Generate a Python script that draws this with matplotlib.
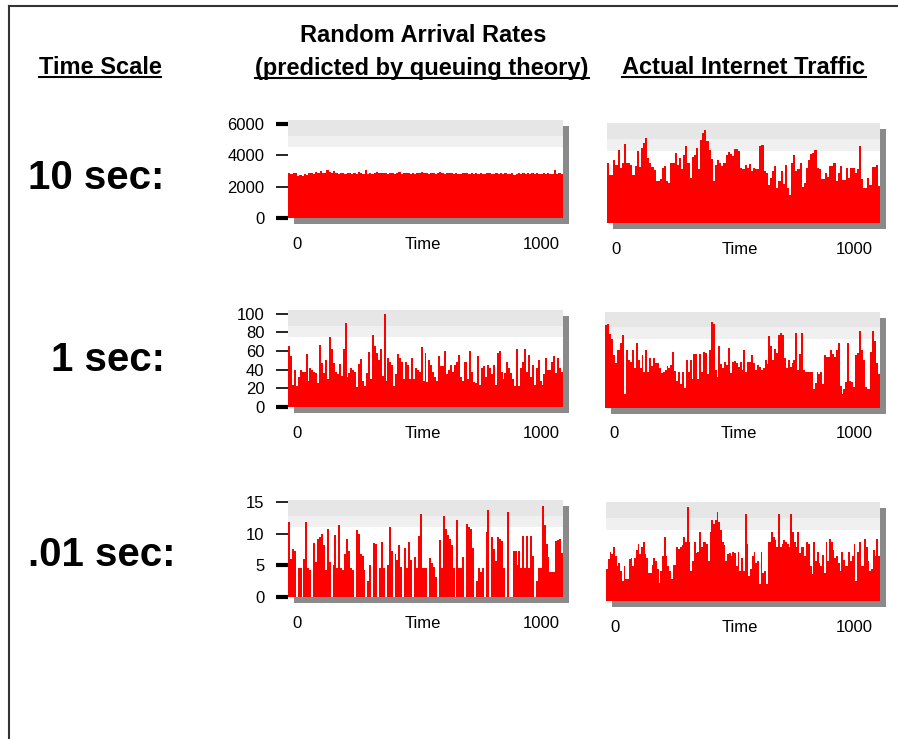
import numpy as np
import matplotlib
matplotlib.use("Agg")
import matplotlib.pyplot as plt
from matplotlib.patches import Rectangle
from matplotlib.lines import Line2D

# ---- data (bar heights, left to right) ----
poisson_10s = [2850, 2800, 2900, 2850, 2650, 2750, 2700, 2800, 2750, 2850, 2900, 2800, 2950, 2850,
               3000, 2900, 2850, 3050, 2950, 2850, 3000, 2900, 2800, 2850, 2900, 2800, 2850, 2900,
               2800, 2850, 2800, 2950, 2850, 2800, 3050, 2800, 2850, 2800, 2850, 2950, 2850, 2850,
               2900, 2850, 2800, 2850, 2850, 2800, 2850, 2950, 2800, 2850, 2900, 2850, 2800, 2850,
               2800, 2900, 2850, 2950, 2850, 2850, 2800, 2900, 2850, 2800, 2850, 2950, 2850, 2800,
               2850, 2900, 2850, 2800, 2850, 2800, 2800, 2850, 2900, 2850, 2800, 2850, 2800, 2850,
               2800, 2850, 2800, 2800, 2850, 2850, 2800, 2800, 2850, 2800, 2850, 2800, 2850, 2800,
               2800, 2850, 2750, 2800, 2850, 2800, 2850, 2800, 2850, 2800, 2850, 2800, 2850, 2800,
               2800, 2850, 2800, 2850, 2800, 2800, 3050, 2800, 2850, 2800]
poisson_1s = [65, 55, 24, 40, 22, 32, 40, 38, 38, 57, 28, 42, 40, 38, 36, 26, 66, 47, 36, 50, 30,
              75, 62, 47, 38, 35, 46, 33, 62, 90, 32, 36, 42, 40, 38, 21, 46, 51, 28, 22, 36, 59,
              30, 77, 65, 58, 50, 62, 33, 100, 28, 52, 48, 45, 22, 35, 57, 52, 48, 30, 48, 45, 30,
              52, 30, 42, 40, 38, 64, 28, 58, 27, 50, 45, 38, 32, 28, 55, 44, 44, 60, 35, 40, 45,
              38, 45, 48, 56, 32, 28, 48, 48, 30, 60, 38, 27, 26, 55, 24, 42, 44, 32, 45, 42, 35,
              45, 24, 58, 60, 38, 30, 36, 48, 42, 36, 30, 22, 62, 22, 42, 48, 62, 38, 56, 32, 45,
              24, 42, 50, 28, 24, 35, 52, 40, 40, 48, 55, 36, 52, 42, 38]
poisson_01s = [11.8, 6, 7.5, 7.3, 0, 4.5, 4.5, 0, 6, 11.8, 4.5, 4.3, 0, 8.5, 5.5, 9.2, 9.5, 10,
               8.2, 4.2, 10.8, 5.5, 0, 5, 9.8, 4.5, 11.3, 4.5, 4.2, 6.8, 9.2, 7.3, 4.5, 4.2, 0,
               10.5, 10, 6.8, 6.5, 4.3, 0, 2.5, 5, 0, 8.5, 8.3, 0, 4.5, 8.6, 4.5, 0, 5, 11.1, 7.2,
               0, 6.8, 5.8, 8.2, 4.8, 0, 7.8, 4.5, 8.6, 5.8, 0, 6.3, 4.5, 9.6, 13.1, 4.5, 4.5, 4.5,
               0, 6.2, 5.3, 4.7, 3.2, 0, 9, 4.6, 12.8, 10.8, 9.8, 9.2, 8.2, 4.6, 0, 12.2, 4.6, 4.5,
               6.3, 0, 11.5, 11, 10.8, 7.8, 0, 2.5, 4.5, 4, 4.5, 0, 10.2, 13.8, 0, 9.5, 7.6, 5.7,
               9.5, 9.2, 8.8, 4.6, 0, 13.4, 0, 0, 7.3, 7.3, 5, 7.3, 4.6, 9.6, 4.6, 9.6, 4.6, 9.6,
               6.5, 0, 2.5, 4.6, 4.6, 14.3, 11.3, 8.4, 6.3, 4, 4, 4, 8.8, 9, 9.2, 7]
internet_10s = [60, 48, 48, 63, 58, 73, 55, 60, 79, 60, 60, 58, 48, 57, 72, 56, 75, 80, 85, 65,
                60, 56, 53, 42, 42, 44, 55, 57, 42, 40, 60, 60, 70, 58, 65, 54, 68, 77, 60, 45,
                66, 68, 75, 54, 83, 90, 93, 82, 73, 64, 42, 58, 63, 60, 57, 60, 68, 71, 69, 67,
                74, 74, 72, 55, 54, 58, 55, 59, 52, 55, 54, 54, 77, 78, 52, 50, 38, 45, 52, 57,
                35, 42, 52, 39, 58, 35, 28, 60, 68, 52, 54, 60, 36, 40, 55, 63, 69, 70, 73, 55,
                54, 44, 44, 50, 46, 57, 57, 60, 42, 50, 57, 43, 43, 55, 45, 55, 55, 50, 54, 77,
                44, 35, 35, 45, 38, 56, 56, 58, 37]
internet_1s = [86, 87, 77, 72, 55, 47, 60, 60, 68, 76, 15, 60, 50, 48, 60, 42, 68, 50, 42, 55, 37,
               60, 38, 52, 44, 52, 47, 47, 42, 36, 37, 40, 44, 42, 45, 58, 39, 28, 38, 25, 38, 21,
               50, 37, 50, 30, 56, 56, 30, 56, 37, 58, 57, 35, 60, 90, 88, 40, 32, 65, 46, 42, 48,
               45, 62, 36, 48, 49, 47, 43, 48, 40, 60, 37, 48, 48, 55, 47, 40, 45, 43, 40, 42, 50,
               46, 75, 65, 50, 61, 57, 76, 78, 76, 52, 42, 50, 43, 47, 50, 78, 40, 56, 78, 40, 38,
               37, 37, 37, 20, 26, 37, 35, 37, 25, 55, 53, 53, 60, 56, 53, 60, 68, 23, 15, 20, 27,
               68, 28, 27, 22, 55, 57, 80, 60, 50, 22, 20, 20, 58, 80, 70, 47, 35]
internet_01s = [32, 42, 50, 47, 55, 45, 35, 38, 30, 20, 35, 22, 22, 42, 43, 35, 43, 52, 58, 47, 55,
                60, 47, 43, 28, 28, 36, 43, 40, 32, 18, 30, 45, 65, 45, 35, 30, 22, 36, 36, 55, 53,
                55, 57, 65, 60, 95, 60, 30, 40, 60, 48, 50, 70, 55, 60, 60, 58, 40, 70, 82, 78, 82,
                90, 80, 72, 60, 57, 40, 47, 48, 45, 50, 48, 35, 50, 30, 43, 30, 88, 58, 25, 32, 45,
                50, 38, 40, 17, 50, 28, 30, 17, 60, 60, 70, 65, 62, 55, 88, 55, 58, 62, 60, 58, 55,
                88, 70, 60, 55, 70, 48, 55, 55, 45, 60, 58, 35, 27, 60, 40, 50, 38, 35, 46, 28, 60,
                40, 63, 60, 52, 43, 45, 38, 30, 50, 41, 35, 35, 50, 40, 45, 58, 20, 50, 60, 35, 35,
                63, 55, 40, 30, 32, 52, 45, 63, 45]

row_labels = ["10 sec:", "1 sec:", ".01 sec:"]
left_series = [poisson_10s, poisson_1s, poisson_01s]
right_series = [internet_10s, internet_1s, internet_01s]
left_yticks = [[0, 2000, 4000, 6000], [0, 20, 40, 60, 80, 100], [0, 5, 10, 15]]
left_ytop = [6250, 104, 15.3]
thick_ticks = [[0, 6000], [0], [0, 5]]
x_labels = ["0", "Time", "1000"]

W, H = 898, 739
fig = plt.figure(figsize=(W / 100, H / 100), dpi=100)
fig.patch.set_facecolor("white")

HEAD = ["Liberation Sans", "DejaVu Sans"]
TICK = ["Liberation Sans", "DejaVu Sans"]


def px_rect(x0, y0, x1, y1):
    return [x0 / W, 1 - y1 / H, (x1 - x0) / W, (y1 - y0) / H]


# pixel boxes of each panel (left, top, right, bottom)
left_boxes = [(288, 120, 563, 218), (288, 310, 563, 407), (288, 500, 563, 597)]
right_boxes = [(607, 123, 880, 223), (605, 312, 880, 408), (606, 502, 880, 601)]
label_y = [178, 360, 555]
label_x = [96, 108, 102]


def panel(box, vals, ytop, lbl_pos):
    r = px_rect(*box)
    # drop shadow
    fig.add_artist(Rectangle((r[0] + 6 / W, r[1] - 6 / H), r[2], r[3], transform=fig.transFigure,
                             facecolor="#8a8a8a", edgecolor="none", zorder=-1))
    ax = fig.add_axes(r)
    ax.set_facecolor("white")
    ax.add_patch(Rectangle((0, 0.72), 1, 0.12, transform=ax.transAxes, facecolor="#f0f0f0",
                           edgecolor="none", zorder=0))
    ax.add_patch(Rectangle((0, 0.84), 1, 0.16, transform=ax.transAxes, facecolor="#e6e6e6",
                           edgecolor="none", zorder=0))
    n = len(vals)
    # bars drawn as one filled step outline so there are no seams between them
    ax.stairs(vals, np.arange(n + 1) - 0.5, fill=True, color="#ff0000", zorder=2)
    ax.set_xlim(-0.5, n - 0.5)
    ax.set_ylim(0, ytop)
    for s in ax.spines.values():
        s.set_visible(False)
    ax.set_xticks([])
    for lbl, fx in zip(x_labels, lbl_pos):
        ax.text(fx, -0.27, lbl, transform=ax.transAxes, ha="center", va="center",
                fontsize=12, family=TICK)
    return ax


for i in range(3):
    ax = panel(left_boxes[i], left_series[i], left_ytop[i], [0.033, 0.49, 0.92])
    ax.set_yticks(left_yticks[i])
    ax.set_yticklabels([str(v) for v in left_yticks[i]], fontsize=12, family=TICK)
    ax.tick_params(axis="y", length=9, width=1.2, pad=8, color="black")
    for t, v in zip(ax.yaxis.get_major_ticks(), left_yticks[i]):
        if v in thick_ticks[i]:
            t.tick1line.set_markeredgewidth(3)

    ax2 = panel(right_boxes[i], right_series[i], 100, [0.033, 0.487, 0.905])
    ax2.set_yticks([])

    fig.text(label_x[i] / W, 1 - label_y[i] / H, row_labels[i], ha="center", va="center",
             fontsize=29, fontweight="bold", family=HEAD)

# headers
fig.text(423 / W, 1 - 35 / H, "Random Arrival Rates", ha="center", va="center",
         fontsize=17, fontweight="bold", family=HEAD)
underlined = [
    fig.text(422 / W, 1 - 68 / H, "(predicted by queuing theory)", ha="center", va="center",
             fontsize=17, fontweight="bold", family=HEAD),
    fig.text(100 / W, 1 - 67 / H, "Time Scale", ha="center", va="center",
             fontsize=17, fontweight="bold", family=HEAD),
    fig.text(744 / W, 1 - 67 / H, "Actual Internet Traffic", ha="center", va="center",
             fontsize=17, fontweight="bold", family=HEAD),
]

fig.canvas.draw()
for t in underlined:
    bb = t.get_window_extent()
    yy = (bb.y0 + 2) / H
    fig.add_artist(Line2D([bb.x0 / W, bb.x1 / W], [yy, yy], transform=fig.transFigure,
                          color="black", lw=1.5))

# outer frame (left and top edge)
fig.add_artist(Line2D([9 / W, 9 / W], [0, 1 - 6 / H], transform=fig.transFigure, color="#333333", lw=1.5))
fig.add_artist(Line2D([9 / W, 1], [1 - 6 / H, 1 - 6 / H], transform=fig.transFigure, color="#333333", lw=1.5))

fig.savefig("out.png", dpi=100)
